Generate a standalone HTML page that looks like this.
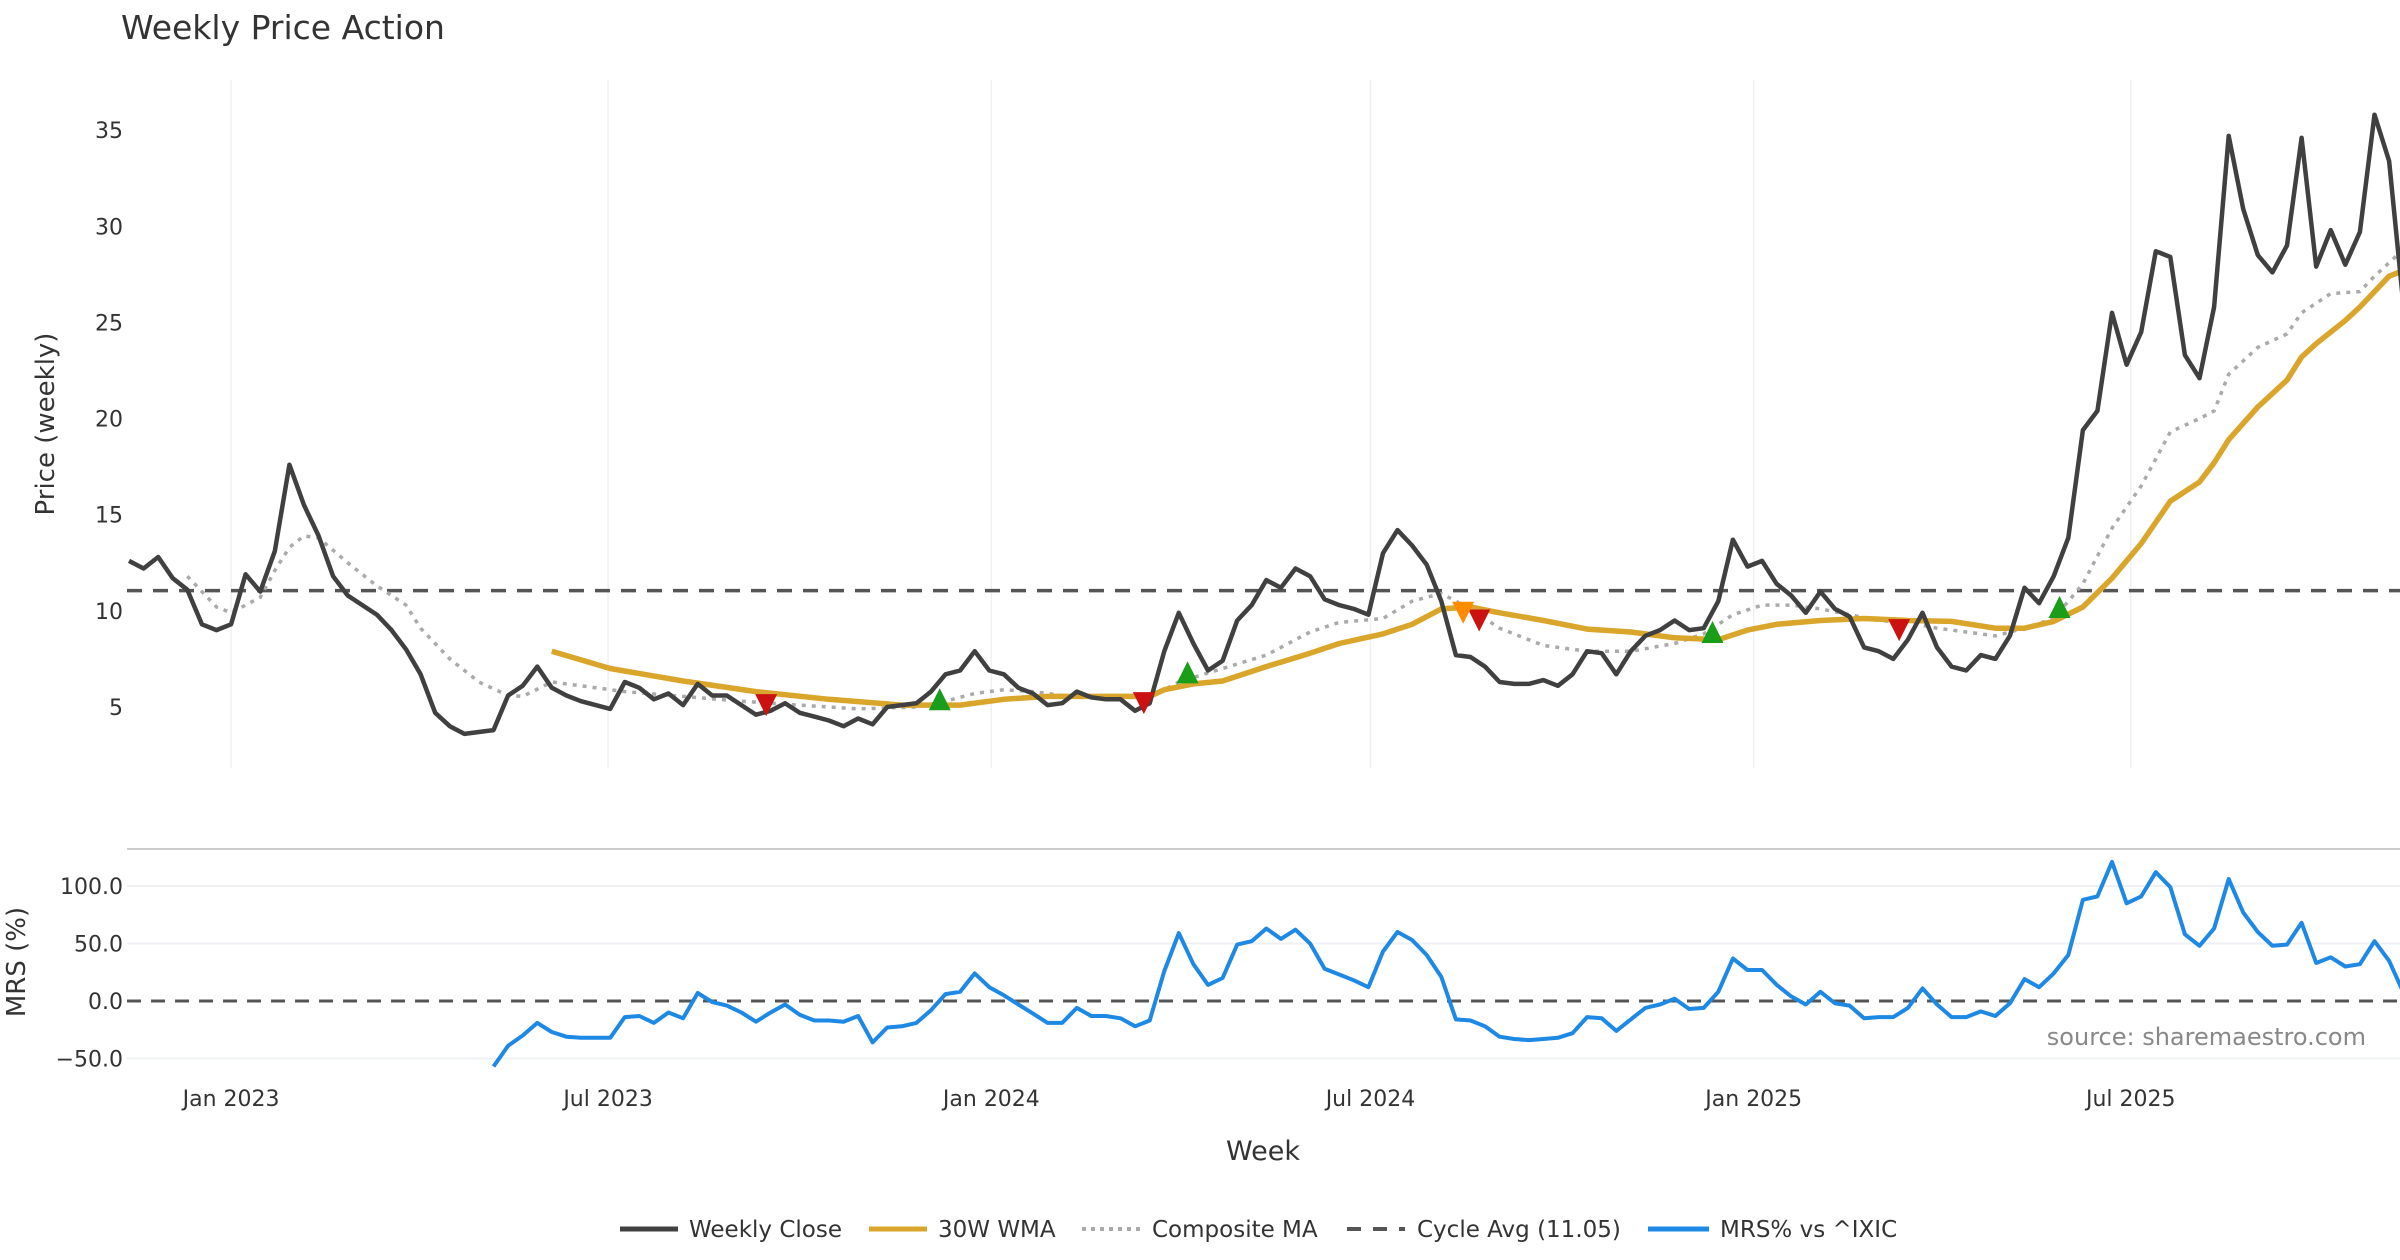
<!DOCTYPE html>
<html><head><meta charset="utf-8"><style>
html,body{margin:0;padding:0;background:#fff;}
svg{display:block;font-family:"DejaVu Sans","Liberation Sans",sans-serif;}
</style></head><body>
<svg id="chart" width="2400" height="1260" viewBox="0 0 2400 1260" xmlns="http://www.w3.org/2000/svg">
<rect x="0" y="0" width="2400" height="1260" fill="#fff"/>
<text x="121" y="39" font-size="33" fill="#333">Weekly Price Action</text>
<g id="grid"></g>
<g id="price"></g>
<g id="mrs"></g>
<g id="axes"></g>
<text transform="translate(54,424) rotate(-90)" text-anchor="middle" font-size="26" fill="#333">Price (weekly)</text>
<text transform="translate(25,962) rotate(-90)" text-anchor="middle" font-size="26" fill="#333">MRS (%)</text>
<text x="1263" y="1160" text-anchor="middle" font-size="27" fill="#333">Week</text>
<text x="2366" y="1045" text-anchor="end" font-size="24" fill="#888">source: sharemaestro.com</text>
<g font-size="23" fill="#333">
 <g><line x1="620" y1="1229" x2="678" y2="1229" stroke="#404040" stroke-width="5"/><text x="689" y="1237">Weekly Close</text></g>
 <g><line x1="869" y1="1229" x2="927" y2="1229" stroke="#d9a52a" stroke-width="5"/><text x="938" y="1237">30W WMA</text></g>
 <g><line x1="1082" y1="1229" x2="1140" y2="1229" stroke="#aaa" stroke-width="4" stroke-dasharray="4,5"/><text x="1152" y="1237">Composite MA</text></g>
 <g><line x1="1347" y1="1229" x2="1405" y2="1229" stroke="#555" stroke-width="4" stroke-dasharray="14,12"/><text x="1417" y="1237">Cycle Avg (11.05)</text></g>
 <g><line x1="1648" y1="1229" x2="1709" y2="1229" stroke="#1e88e5" stroke-width="5"/><text x="1720" y="1237">MRS% vs ^IXIC</text></g>
</g>
</svg>
<script>
const closeVals=[12.6,12.2,12.8,11.7,11.1,9.3,9.0,9.3,11.9,11.0,13.1,17.6,15.5,13.9,11.8,10.8,10.3,9.8,9.0,8.0,6.7,4.7,4.0,3.6,3.7,3.8,5.6,6.1,7.1,6.0,5.6,5.3,5.1,4.9,6.3,6.0,5.4,5.7,5.1,6.2,5.6,5.6,5.1,4.6,4.8,5.2,4.7,4.5,4.3,4.0,4.4,4.1,5.0,5.1,5.2,5.8,6.7,6.9,7.9,6.9,6.7,6.0,5.7,5.1,5.2,5.8,5.5,5.4,5.4,4.8,5.2,7.9,9.9,8.3,6.9,7.4,9.5,10.3,11.6,11.2,12.2,11.8,10.6,10.3,10.1,9.8,13.0,14.2,13.4,12.4,10.5,7.7,7.6,7.1,6.3,6.2,6.2,6.4,6.1,6.7,7.9,7.8,6.7,7.9,8.7,9.0,9.5,9.0,9.1,10.5,13.7,12.3,12.6,11.4,10.8,9.9,11.0,10.1,9.7,8.1,7.9,7.5,8.5,9.9,8.1,7.1,6.9,7.7,7.5,8.7,11.2,10.4,11.8,13.8,19.4,20.4,25.5,22.8,24.5,28.7,28.4,23.3,22.1,25.8,34.7,30.9,28.5,27.6,29.0,34.6,27.9,29.8,28.0,29.7,35.8,33.4,25.8];
const wmaIdx=[29,33,38,43,48,53,57,60,63,67,70,71,73,75,78,81,83,86,88,90,92,94,97,100,103,106,109,111,113,116,119,122,125,128,130,132,134,136,138,140,142,143,144,146,148,149,150,152,153,154,155,156];
const wmaVals=[7.9,7.0,6.35,5.8,5.4,5.1,5.1,5.4,5.55,5.55,5.55,5.9,6.2,6.35,7.1,7.8,8.3,8.8,9.3,10.1,10.2,9.9,9.5,9.05,8.9,8.6,8.5,9.0,9.3,9.5,9.6,9.5,9.45,9.1,9.1,9.45,10.2,11.7,13.5,15.7,16.7,17.7,18.9,20.6,22.0,23.2,23.9,25.1,25.8,26.6,27.4,27.7];
const compIdx=[4,6,7,9,10,11,12,13,15,17,19,20,22,24,26,27,29,31,34,38,42,46,50,54,56,58,60,62,65,70,72,75,78,81,83,86,88,90,92,94,97,100,103,106,108,110,112,114,116,118,120,122,124,126,128,130,132,134,136,138,140,142,143,144,146,148,149,151,153,154,156];
const compVals=[11.8,10.2,9.9,10.7,12.1,13.3,13.9,13.8,12.5,11.3,10.3,9.1,7.5,6.3,5.6,5.55,6.3,6.1,5.8,5.55,5.3,5.1,4.9,5.0,5.3,5.7,5.9,5.8,5.5,5.5,6.3,7.0,7.7,8.9,9.4,9.6,10.5,10.9,10.1,9.1,8.2,7.9,7.9,8.3,8.8,9.8,10.3,10.3,10.1,9.8,9.5,9.4,9.1,8.9,8.7,9.1,9.6,11.4,14.3,16.5,19.3,20.0,20.4,22.3,23.7,24.4,25.5,26.5,26.6,27.4,28.8];
const mrsStart=25;
const mrsVals=[-57,-39,-30,-19,-27,-31,-32,-32,-32,-14,-13,-19,-10,-15,7,-1,-4,-10,-18,-10,-3,-12,-17,-17,-18,-13,-36,-23,-22,-19,-8,6,8,24,12,5,-3,-11,-19,-19,-6,-13,-13,-15,-22,-17,26,59,32,14,20,49,52,63,54,62,50,28,23,18,12,43,60,53,40,21,-16,-17,-22,-31,-33,-34,-33,-32,-28,-14,-15,-26,-16,-6,-3,2,-7,-6,8,37,27,27,14,4,-3,8,-2,-4,-15,-14,-14,-6,11,-3,-14,-14,-9,-13,-2,19,12,24,40,88,91,121,85,91,112,99,58,48,63,106,77,60,48,49,68,33,38,30,32,52,35,7];
const buyIdx=[55.6,72.6,108.6,132.4];
const buyVals=[5.4,6.8,8.9,10.2];
const sellIdx=[43.7,69.6,92.6,121.4];
const sellVals=[5.1,5.2,9.5,9.0];
const warnIdx=[91.5];
const warnVals=[9.9];
const cycleAvg=11.05;
const priceTicks=[5,10,15,20,25,30,35];
const mrsTicks=[-50,0,50,100];
const mrsTickLabels=["−50.0","0.0","50.0","100.0"];
const dateTicks=["2023-01-01","2023-07-01","2024-01-01","2024-07-01","2025-01-01","2025-07-01"];
const dateLabels=["Jan 2023","Jul 2023","Jan 2024","Jul 2024","Jan 2025","Jul 2025"];

const NS="http://www.w3.org/2000/svg";
const t0=Date.UTC(2022,10,13);
const PXDAY=2.083, X0=129, PL=127, XR=2400;
function xDays(d){return X0+d*PXDAY;}
function xIdx(i){return xDays(i*7);}
function xDate(s){const p=s.split("-");return xDays((Date.UTC(+p[0],+p[1]-1,+p[2])-t0)/864e5);}
function yP(v){return 707-(v-5)*19.23;}
function yM(v){return 1001-v*1.15;}
function mk(tag,attrs,parent){const e=document.createElementNS(NS,tag);for(const k in attrs)e.setAttribute(k,attrs[k]);parent.appendChild(e);return e;}
const svg=document.getElementById("chart");
const defs=mk("defs",{},svg);
const cp=mk("clipPath",{id:"cp"},defs);mk("rect",{x:PL,y:70,width:XR-PL,height:700},cp);
const cm=mk("clipPath",{id:"cm"},defs);mk("rect",{x:PL,y:852,width:XR-PL,height:222},cm);
const grid=document.getElementById("grid"),price=document.getElementById("price"),mrs=document.getElementById("mrs"),axes=document.getElementById("axes");
price.setAttribute("clip-path","url(#cp)");mrs.setAttribute("clip-path","url(#cm)");

dateTicks.forEach((d,k)=>{
 const x=xDate(d);
 const g=mk("line",{x1:x,y1:80,x2:x,y2:768,stroke:"#eef0f3","stroke-width":1.5},grid);
 
 
 const t=mk("text",{x:x,y:1106,"text-anchor":"middle","font-size":22,fill:"#333"},axes);
 t.textContent=dateLabels[k];
 
 
});
priceTicks.forEach(v=>{
 const t=mk("text",{x:123,y:yP(v)+8,"text-anchor":"end","font-size":22,fill:"#333"},axes);
 t.textContent=String(v);
 
 
});
const sep=mk("line",{x1:PL,y1:849,x2:XR,y2:849,stroke:"#ccc","stroke-width":2},grid);


mrsTicks.forEach((v,k)=>{
 if(v!==0){const l=mk("line",{x1:PL,y1:yM(v),x2:XR,y2:yM(v),stroke:"#eef0f3","stroke-width":2},grid);
 
 }
 const t=mk("text",{x:123,y:yM(v)+8,"text-anchor":"end","font-size":22,fill:"#333"},axes);
 t.textContent=mrsTickLabels[k];
 
 
});
function pts(idx,vals,yf){return vals.map((v,k)=>xIdx(idx[k]).toFixed(1)+","+yf(v).toFixed(1)).join(" ");}
const cy=mk("line",{x1:PL,y1:yP(cycleAvg),x2:XR,y2:yP(cycleAvg),stroke:"#555","stroke-width":3.5,"stroke-dasharray":"15,11"},price);


const comp=mk("polyline",{points:pts(compIdx,compVals,yP),fill:"none",stroke:"#aaa","stroke-width":3.5,"stroke-dasharray":"4,6"},price);


const wma=mk("polyline",{points:pts(wmaIdx,wmaVals,yP),fill:"none",stroke:"#d9a52a","stroke-width":5.5,"stroke-linejoin":"round"},price);


const cl=mk("polyline",{points:pts(closeVals.map((v,i)=>i),closeVals,yP),fill:"none",stroke:"#404040","stroke-width":4.5,"stroke-linejoin":"round"},price);


function tri(x,y,up,color,name){
 const s=11;
 const p=up?`${x-s},${y+s} ${x+s},${y+s} ${x},${y-s}`:`${x-s},${y-s} ${x+s},${y-s} ${x},${y+s}`;
 const e=mk("polygon",{points:p,fill:color},price);
 
 
}
buyIdx.forEach((i,k)=>tri(xIdx(i),yP(buyVals[k]),true,"#1a9e1a","buy-signal"));
sellIdx.forEach((i,k)=>tri(xIdx(i),yP(sellVals[k]),false,"#cc1111","sell-signal"));
warnIdx.forEach((i,k)=>tri(xIdx(i),yP(warnVals[k]),false,"#ff8c00","warning-signal"));
const z=mk("line",{x1:PL,y1:yM(0),x2:XR,y2:yM(0),stroke:"#555","stroke-width":3,"stroke-dasharray":"14,10"},mrs);


const ml=mk("polyline",{points:pts(mrsVals.map((v,k)=>mrsStart+k),mrsVals,yM),fill:"none",stroke:"#1e88e5","stroke-width":4,"stroke-linejoin":"round"},mrs);


</script>
</body></html>
